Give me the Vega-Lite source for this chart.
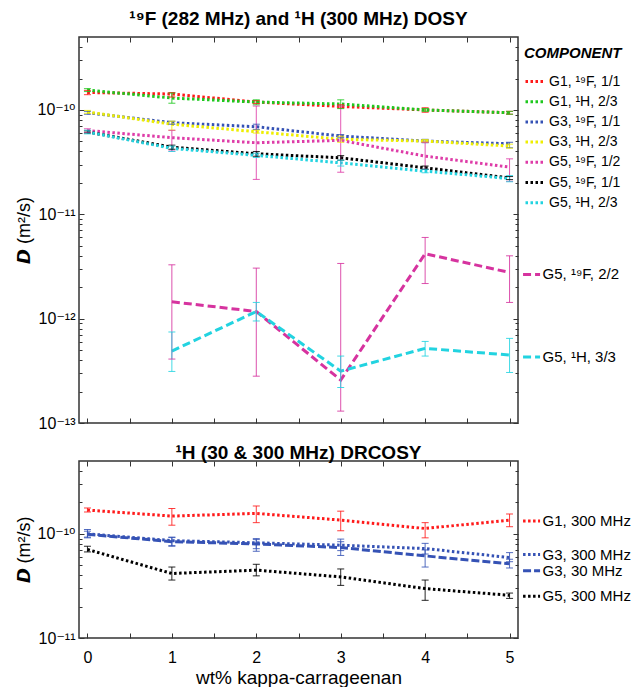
{
  "$schema": "https://vega.github.io/schema/vega-lite/v6.json",
  "padding": {"left": 14, "top": 8, "right": 0, "bottom": 0},
  "spacing": 10,
  "resolve": {"scale": {"color": "independent", "strokeDash": "independent", "y": "independent"}},
  "config": {
    "font": "Liberation Sans, DejaVu Sans, sans-serif",
    "view": {"stroke": "#333", "strokeWidth": 1.5},
    "axis": {"domain": false, "grid": false, "labelFont": "Liberation Sans, DejaVu Sans, sans-serif", "labelFontSize": 16, "labelColor": "#000", "tickColor": "#333", "tickWidth": 1, "titleFont": "Liberation Sans, DejaVu Sans, sans-serif", "titleFontSize": 18, "titleFontWeight": "normal", "titleColor": "#000", "labelFlush": false},
    "title": {"font": "Liberation Sans, DejaVu Sans, sans-serif", "fontSize": 19, "fontWeight": "bold", "color": "#000", "anchor": "middle"}
  },
  "datasets": {
    "dosy": [
      {"series": "G1, ¹⁹F, 1/1", "x": 0, "D": 1.47e-10, "lo": 1.40e-10, "hi": 1.54e-10},
      {"series": "G1, ¹⁹F, 1/1", "x": 1, "D": 1.42e-10, "lo": 1.33e-10, "hi": 1.47e-10},
      {"series": "G1, ¹⁹F, 1/1", "x": 2, "D": 1.19e-10, "lo": 1.15e-10, "hi": 1.23e-10},
      {"series": "G1, ¹⁹F, 1/1", "x": 3, "D": 1.08e-10, "lo": 1.04e-10, "hi": 1.12e-10},
      {"series": "G1, ¹⁹F, 1/1", "x": 4, "D": 1.00e-10, "lo": 0.95e-10, "hi": 1.05e-10},
      {"series": "G1, ¹⁹F, 1/1", "x": 5, "D": 0.94e-10, "lo": 0.91e-10, "hi": 0.97e-10},
      {"series": "G1, ¹H, 2/3", "x": 0, "D": 1.55e-10, "lo": 1.50e-10, "hi": 1.60e-10},
      {"series": "G1, ¹H, 2/3", "x": 1, "D": 1.30e-10, "lo": 1.16e-10, "hi": 1.45e-10},
      {"series": "G1, ¹H, 2/3", "x": 2, "D": 1.19e-10, "lo": 1.12e-10, "hi": 1.25e-10},
      {"series": "G1, ¹H, 2/3", "x": 3, "D": 1.14e-10, "lo": 1.03e-10, "hi": 1.25e-10},
      {"series": "G1, ¹H, 2/3", "x": 4, "D": 1.00e-10, "lo": 0.97e-10, "hi": 1.03e-10},
      {"series": "G1, ¹H, 2/3", "x": 5, "D": 0.94e-10, "lo": 0.91e-10, "hi": 0.97e-10},
      {"series": "G3, ¹⁹F, 1/1", "x": 0, "D": 0.94e-10, "lo": 0.91e-10, "hi": 0.97e-10},
      {"series": "G3, ¹⁹F, 1/1", "x": 1, "D": 0.755e-10, "lo": 0.73e-10, "hi": 0.78e-10},
      {"series": "G3, ¹⁹F, 1/1", "x": 2, "D": 0.69e-10, "lo": 0.65e-10, "hi": 0.73e-10},
      {"series": "G3, ¹⁹F, 1/1", "x": 3, "D": 0.562e-10, "lo": 0.54e-10, "hi": 0.58e-10},
      {"series": "G3, ¹⁹F, 1/1", "x": 4, "D": 0.503e-10, "lo": 0.485e-10, "hi": 0.523e-10},
      {"series": "G3, ¹⁹F, 1/1", "x": 5, "D": 0.474e-10, "lo": 0.434e-10, "hi": 0.49e-10},
      {"series": "G3, ¹H, 2/3", "x": 0, "D": 0.957e-10, "lo": 0.93e-10, "hi": 0.99e-10},
      {"series": "G3, ¹H, 2/3", "x": 1, "D": 0.73e-10, "lo": 0.64e-10, "hi": 0.78e-10},
      {"series": "G3, ¹H, 2/3", "x": 2, "D": 0.618e-10, "lo": 0.60e-10, "hi": 0.64e-10},
      {"series": "G3, ¹H, 2/3", "x": 3, "D": 0.523e-10, "lo": 0.49e-10, "hi": 0.56e-10},
      {"series": "G3, ¹H, 2/3", "x": 4, "D": 0.503e-10, "lo": 0.49e-10, "hi": 0.52e-10},
      {"series": "G3, ¹H, 2/3", "x": 5, "D": 0.451e-10, "lo": 0.43e-10, "hi": 0.47e-10},
      {"series": "G5, ¹⁹F, 1/2", "x": 0, "D": 0.635e-10, "lo": 0.61e-10, "hi": 0.66e-10},
      {"series": "G5, ¹⁹F, 1/2", "x": 1, "D": 0.542e-10, "lo": 0.404e-10, "hi": 0.638e-10},
      {"series": "G5, ¹⁹F, 1/2", "x": 2, "D": 0.485e-10, "lo": 0.216e-10, "hi": 1.09e-10},
      {"series": "G5, ¹⁹F, 1/2", "x": 3, "D": 0.511e-10, "lo": 0.253e-10, "hi": 1.09e-10},
      {"series": "G5, ¹⁹F, 1/2", "x": 4, "D": 0.361e-10, "lo": 0.27e-10, "hi": 0.49e-10},
      {"series": "G5, ¹⁹F, 1/2", "x": 5, "D": 0.283e-10, "lo": 0.207e-10, "hi": 0.34e-10},
      {"series": "G5, ¹⁹F, 1/1", "x": 0, "D": 0.615e-10, "lo": 0.60e-10, "hi": 0.63e-10},
      {"series": "G5, ¹⁹F, 1/1", "x": 1, "D": 0.44e-10, "lo": 0.42e-10, "hi": 0.46e-10},
      {"series": "G5, ¹⁹F, 1/1", "x": 2, "D": 0.38e-10, "lo": 0.36e-10, "hi": 0.40e-10},
      {"series": "G5, ¹⁹F, 1/1", "x": 3, "D": 0.348e-10, "lo": 0.33e-10, "hi": 0.365e-10},
      {"series": "G5, ¹⁹F, 1/1", "x": 4, "D": 0.279e-10, "lo": 0.27e-10, "hi": 0.29e-10},
      {"series": "G5, ¹⁹F, 1/1", "x": 5, "D": 0.223e-10, "lo": 0.215e-10, "hi": 0.23e-10},
      {"series": "G5, ¹H, 2/3", "x": 0, "D": 0.615e-10, "lo": 0.59e-10, "hi": 0.64e-10},
      {"series": "G5, ¹H, 2/3", "x": 1, "D": 0.428e-10, "lo": 0.40e-10, "hi": 0.45e-10},
      {"series": "G5, ¹H, 2/3", "x": 2, "D": 0.367e-10, "lo": 0.35e-10, "hi": 0.385e-10},
      {"series": "G5, ¹H, 2/3", "x": 3, "D": 0.311e-10, "lo": 0.29e-10, "hi": 0.33e-10},
      {"series": "G5, ¹H, 2/3", "x": 4, "D": 0.259e-10, "lo": 0.25e-10, "hi": 0.27e-10},
      {"series": "G5, ¹H, 2/3", "x": 5, "D": 0.22e-10, "lo": 0.205e-10, "hi": 0.235e-10},
      {"series": "G5, ¹⁹F, 2/2", "x": 1, "D": 1.45e-12, "lo": 0.41e-12, "hi": 3.28e-12},
      {"series": "G5, ¹⁹F, 2/2", "x": 2, "D": 1.17e-12, "lo": 0.281e-12, "hi": 3.05e-12},
      {"series": "G5, ¹⁹F, 2/2", "x": 3, "D": 0.258e-12, "lo": 0.130e-12, "hi": 3.38e-12},
      {"series": "G5, ¹⁹F, 2/2", "x": 4, "D": 4.19e-12, "lo": 2.17e-12, "hi": 6.0e-12},
      {"series": "G5, ¹⁹F, 2/2", "x": 5, "D": 2.77e-12, "lo": 1.43e-12, "hi": 4.0e-12},
      {"series": "G5, ¹H, 3/3", "x": 1, "D": 0.489e-12, "lo": 0.312e-12, "hi": 0.745e-12},
      {"series": "G5, ¹H, 3/3", "x": 2, "D": 1.17e-12, "lo": 0.95e-12, "hi": 1.43e-12},
      {"series": "G5, ¹H, 3/3", "x": 3, "D": 0.314e-12, "lo": 0.219e-12, "hi": 0.438e-12},
      {"series": "G5, ¹H, 3/3", "x": 4, "D": 0.519e-12, "lo": 0.438e-12, "hi": 0.605e-12},
      {"series": "G5, ¹H, 3/3", "x": 5, "D": 0.448e-12, "lo": 0.305e-12, "hi": 0.647e-12}
    ],
    "drcosy": [
      {"series": "G1, 300 MHz", "x": 0, "D": 1.69e-10, "lo": 1.62e-10, "hi": 1.77e-10},
      {"series": "G1, 300 MHz", "x": 1, "D": 1.48e-10, "lo": 1.21e-10, "hi": 1.75e-10},
      {"series": "G1, 300 MHz", "x": 2, "D": 1.57e-10, "lo": 1.28e-10, "hi": 1.85e-10},
      {"series": "G1, 300 MHz", "x": 3, "D": 1.355e-10, "lo": 1.07e-10, "hi": 1.65e-10},
      {"series": "G1, 300 MHz", "x": 4, "D": 1.125e-10, "lo": 0.915e-10, "hi": 1.28e-10},
      {"series": "G1, 300 MHz", "x": 5, "D": 1.355e-10, "lo": 1.17e-10, "hi": 1.55e-10},
      {"series": "G3, 300 MHz", "x": 0, "D": 1.00e-10, "lo": 0.915e-10, "hi": 1.10e-10},
      {"series": "G3, 300 MHz", "x": 1, "D": 0.86e-10, "lo": 0.77e-10, "hi": 0.93e-10},
      {"series": "G3, 300 MHz", "x": 2, "D": 0.82e-10, "lo": 0.72e-10, "hi": 0.90e-10},
      {"series": "G3, 300 MHz", "x": 3, "D": 0.778e-10, "lo": 0.69e-10, "hi": 0.89e-10},
      {"series": "G3, 300 MHz", "x": 4, "D": 0.722e-10, "lo": 0.64e-10, "hi": 0.81e-10},
      {"series": "G3, 300 MHz", "x": 5, "D": 0.592e-10, "lo": 0.54e-10, "hi": 0.66e-10},
      {"series": "G3, 30 MHz", "x": 0, "D": 0.99e-10, "lo": 0.93e-10, "hi": 1.06e-10},
      {"series": "G3, 30 MHz", "x": 1, "D": 0.84e-10, "lo": 0.76e-10, "hi": 0.92e-10},
      {"series": "G3, 30 MHz", "x": 2, "D": 0.80e-10, "lo": 0.68e-10, "hi": 0.88e-10},
      {"series": "G3, 30 MHz", "x": 3, "D": 0.738e-10, "lo": 0.62e-10, "hi": 0.84e-10},
      {"series": "G3, 30 MHz", "x": 4, "D": 0.614e-10, "lo": 0.48e-10, "hi": 0.70e-10},
      {"series": "G3, 30 MHz", "x": 5, "D": 0.515e-10, "lo": 0.47e-10, "hi": 0.57e-10},
      {"series": "G5, 300 MHz", "x": 0, "D": 0.707e-10, "lo": 0.67e-10, "hi": 0.76e-10},
      {"series": "G5, 300 MHz", "x": 1, "D": 0.416e-10, "lo": 0.36e-10, "hi": 0.48e-10},
      {"series": "G5, 300 MHz", "x": 2, "D": 0.448e-10, "lo": 0.395e-10, "hi": 0.51e-10},
      {"series": "G5, 300 MHz", "x": 3, "D": 0.386e-10, "lo": 0.32e-10, "hi": 0.46e-10},
      {"series": "G5, 300 MHz", "x": 4, "D": 0.298e-10, "lo": 0.23e-10, "hi": 0.36e-10},
      {"series": "G5, 300 MHz", "x": 5, "D": 0.257e-10, "lo": 0.24e-10, "hi": 0.27e-10}
    ]
  },
  "vconcat": [
    {
      "title": {"text": "¹⁹F (282 MHz) and ¹H (300 MHz) DOSY", "offset": 8},
      "width": 439,
      "height": 386,
      "data": {"name": "dosy"},
      "layer": [
        {
          "mark": {"type": "line", "strokeWidth": 3, "strokeCap": "butt"},
          "encoding": {
            "x": {"field": "x", "type": "quantitative", "scale": {"domain": [-0.1, 5.1], "nice": false, "zero": false},
                  "axis": {"orient": "bottom", "values": [0, 0.5, 1, 1.5, 2, 2.5, 3, 3.5, 4, 4.5, 5], "tickSize": -5, "labels": false, "title": null}},
            "y": {"field": "D", "type": "quantitative", "scale": {"type": "log", "domain": [1e-13, 5e-10], "nice": false},
                  "axis": {"orient": "left", "values": [1e-13, 1e-12, 1e-11, 1e-10], "tickSize": -5, "labelPadding": 9,
                           "labelExpr": "'10' + (datum.value < 5e-13 ? '⁻¹³' : datum.value < 5e-12 ? '⁻¹²' : datum.value < 5e-11 ? '⁻¹¹' : '⁻¹⁰')",
                           "title": "𝘿 (m²/s)", "titlePadding": 4}},
            "color": {"field": "series", "type": "nominal",
                      "scale": {"domain": ["G1, ¹⁹F, 1/1", "G1, ¹H, 2/3", "G3, ¹⁹F, 1/1", "G3, ¹H, 2/3", "G5, ¹⁹F, 1/2", "G5, ¹⁹F, 1/1", "G5, ¹H, 2/3", "G5, ¹⁹F, 2/2", "G5, ¹H, 3/3"],
                                "range": ["#ff1a1a", "#1ec81e", "#3552b5", "#eeee00", "#de3ca8", "#000000", "#22d3e0", "#d6339f", "#22d3e0"]},
                      "legend": {"title": "COMPONENT", "orient": "none", "legendX": 445, "legendY": 9,
                                 "values": ["G1, ¹⁹F, 1/1", "G1, ¹H, 2/3", "G3, ¹⁹F, 1/1", "G3, ¹H, 2/3", "G5, ¹⁹F, 1/2", "G5, ¹⁹F, 1/1", "G5, ¹H, 2/3"],
                                 "symbolType": "stroke", "symbolSize": 324, "symbolStrokeWidth": 3, "symbolDash": [2.5, 2.5],
                                 "labelFontSize": 14, "labelColor": "#000", "titleFontSize": 15, "titleFontStyle": "italic", "titleFontWeight": "bold", "titleColor": "#000",
                                 "titlePadding": 10, "rowPadding": 2.2, "labelOffset": 4, "padding": 0, "labelLimit": 200, "titleLimit": 200}},
            "strokeDash": {"field": "series", "type": "nominal",
                           "scale": {"domain": ["G1, ¹⁹F, 1/1", "G1, ¹H, 2/3", "G3, ¹⁹F, 1/1", "G3, ¹H, 2/3", "G5, ¹⁹F, 1/2", "G5, ¹⁹F, 1/1", "G5, ¹H, 2/3", "G5, ¹⁹F, 2/2", "G5, ¹H, 3/3"],
                                     "range": [[2.5, 2.5], [2.5, 2.5], [2.5, 2.5], [2.5, 2.5], [2.5, 2.5], [2.5, 2.5], [2.5, 2.5], [8, 4], [8, 4]]},
                           "legend": null}
          }
        },
        {
          "mark": {"type": "rule", "strokeWidth": 1, "opacity": 0.85},
          "encoding": {
            "x": {"field": "x", "type": "quantitative", "scale": {"domain": [-0.1, 5.1], "nice": false, "zero": false},
                  "axis": {"orient": "top", "values": [0, 0.5, 1, 1.5, 2, 2.5, 3, 3.5, 4, 4.5, 5], "tickSize": -5, "labels": false, "title": null}},
            "y": {"field": "lo", "type": "quantitative", "scale": {"type": "log", "domain": [1e-13, 5e-10], "nice": false},
                  "axis": {"orient": "right", "values": [1e-13, 1e-12, 1e-11, 1e-10], "tickSize": -5, "labels": false, "title": null}},
            "y2": {"field": "hi"},
            "color": {"field": "series", "type": "nominal", "legend": null}
          }
        },
        {
          "mark": {"type": "tick", "orient": "horizontal", "size": 7, "thickness": 1, "opacity": 0.85},
          "encoding": {
            "x": {"field": "x", "type": "quantitative", "scale": {"domain": [-0.1, 5.1], "nice": false, "zero": false}, "axis": null},
            "y": {"field": "lo", "type": "quantitative", "scale": {"type": "log", "domain": [1e-13, 5e-10], "nice": false},
                  "axis": {"orient": "left", "values": [2e-13, 3e-13, 4e-13, 5e-13, 6e-13, 7e-13, 8e-13, 9e-13, 2e-12, 3e-12, 4e-12, 5e-12, 6e-12, 7e-12, 8e-12, 9e-12, 2e-11, 3e-11, 4e-11, 5e-11, 6e-11, 7e-11, 8e-11, 9e-11, 2e-10, 3e-10, 4e-10], "tickSize": -3, "labels": false, "title": null}},
            "color": {"field": "series", "type": "nominal", "legend": null}
          }
        },
        {
          "mark": {"type": "tick", "orient": "horizontal", "size": 7, "thickness": 1, "opacity": 0.85},
          "encoding": {
            "x": {"field": "x", "type": "quantitative", "scale": {"domain": [-0.1, 5.1], "nice": false, "zero": false}, "axis": null},
            "y": {"field": "hi", "type": "quantitative", "scale": {"type": "log", "domain": [1e-13, 5e-10], "nice": false},
                  "axis": {"orient": "right", "values": [2e-13, 3e-13, 4e-13, 5e-13, 6e-13, 7e-13, 8e-13, 9e-13, 2e-12, 3e-12, 4e-12, 5e-12, 6e-12, 7e-12, 8e-12, 9e-12, 2e-11, 3e-11, 4e-11, 5e-11, 6e-11, 7e-11, 8e-11, 9e-11, 2e-10, 3e-10, 4e-10], "tickSize": -3, "labels": false, "title": null}},
            "color": {"field": "series", "type": "nominal", "legend": null}
          }
        },
        {
          "transform": [{"filter": "datum.x == 5 && (datum.series == 'G5, ¹⁹F, 2/2' || datum.series == 'G5, ¹H, 3/3')"}],
          "mark": {"type": "text", "align": "left", "baseline": "middle", "dx": 33, "dy": 2, "fontSize": 15, "color": "#000"},
          "encoding": {
            "x": {"field": "x", "type": "quantitative", "axis": null},
            "y": {"field": "D", "type": "quantitative", "axis": null},
            "text": {"field": "series"}
          }
        },
        {
          "transform": [{"filter": "datum.x == 5 && (datum.series == 'G5, ¹⁹F, 2/2' || datum.series == 'G5, ¹H, 3/3')"}],
          "mark": {"type": "point", "shape": "M-1,0L1,0", "size": 289, "filled": false, "strokeWidth": 3, "xOffset": 22, "yOffset": 2, "opacity": 1},
          "encoding": {
            "x": {"field": "x", "type": "quantitative", "axis": null},
            "y": {"field": "D", "type": "quantitative", "axis": null},
            "color": {"field": "series", "type": "nominal", "legend": null},
            "strokeDash": {"field": "series", "type": "nominal", "legend": null}
          }
        }
      ],
      "resolve": {"axis": {"x": "independent", "y": "independent"}}
    },
    {
      "title": {"text": "¹H (30 & 300 MHz) DRCOSY", "offset": -2},
      "width": 439,
      "height": 177,
      "data": {"name": "drcosy"},
      "layer": [
        {
          "mark": {"type": "line", "strokeWidth": 3, "strokeCap": "butt"},
          "encoding": {
            "x": {"field": "x", "type": "quantitative", "scale": {"domain": [-0.1, 5.1], "nice": false, "zero": false},
                  "axis": {"orient": "bottom", "values": [0, 0.5, 1, 1.5, 2, 2.5, 3, 3.5, 4, 4.5, 5], "tickSize": -5, "labelPadding": 16,
                           "labelExpr": "datum.value % 1 === 0 ? format(datum.value, 'd') : ''",
                           "title": "wt% kappa-carrageenan", "titleFontSize": 19, "titlePadding": 3}},
            "y": {"field": "D", "type": "quantitative", "scale": {"type": "log", "domain": [1e-11, 5e-10], "nice": false},
                  "axis": {"orient": "left", "values": [1e-11, 1e-10], "tickSize": -5, "labelPadding": 9,
                           "labelExpr": "'10' + (datum.value < 5e-11 ? '⁻¹¹' : '⁻¹⁰')",
                           "title": "𝘿 (m²/s)", "titlePadding": 4}},
            "color": {"field": "series", "type": "nominal",
                      "scale": {"domain": ["G1, 300 MHz", "G3, 300 MHz", "G3, 30 MHz", "G5, 300 MHz"], "range": ["#ff1a1a", "#3552b5", "#3552b5", "#000000"]},
                      "legend": null},
            "strokeDash": {"field": "series", "type": "nominal",
                           "scale": {"domain": ["G1, 300 MHz", "G3, 300 MHz", "G3, 30 MHz", "G5, 300 MHz"], "range": [[2.5, 2.5], [2.5, 2.5], [8, 3], [2.5, 2.5]]},
                           "legend": null}
          }
        },
        {
          "mark": {"type": "rule", "strokeWidth": 1, "opacity": 0.85},
          "encoding": {
            "x": {"field": "x", "type": "quantitative", "scale": {"domain": [-0.1, 5.1], "nice": false, "zero": false},
                  "axis": {"orient": "top", "values": [0, 0.5, 1, 1.5, 2, 2.5, 3, 3.5, 4, 4.5, 5], "tickSize": -5, "labels": false, "title": null}},
            "y": {"field": "lo", "type": "quantitative", "scale": {"type": "log", "domain": [1e-11, 5e-10], "nice": false},
                  "axis": {"orient": "right", "values": [1e-11, 1e-10], "tickSize": -5, "labels": false, "title": null}},
            "y2": {"field": "hi"},
            "color": {"field": "series", "type": "nominal", "legend": null}
          }
        },
        {
          "mark": {"type": "tick", "orient": "horizontal", "size": 7, "thickness": 1, "opacity": 0.85},
          "encoding": {
            "x": {"field": "x", "type": "quantitative", "scale": {"domain": [-0.1, 5.1], "nice": false, "zero": false}, "axis": null},
            "y": {"field": "lo", "type": "quantitative", "scale": {"type": "log", "domain": [1e-11, 5e-10], "nice": false},
                  "axis": {"orient": "left", "values": [2e-11, 3e-11, 4e-11, 5e-11, 6e-11, 7e-11, 8e-11, 9e-11, 2e-10, 3e-10, 4e-10], "tickSize": -3, "labels": false, "title": null}},
            "color": {"field": "series", "type": "nominal", "legend": null}
          }
        },
        {
          "mark": {"type": "tick", "orient": "horizontal", "size": 7, "thickness": 1, "opacity": 0.85},
          "encoding": {
            "x": {"field": "x", "type": "quantitative", "scale": {"domain": [-0.1, 5.1], "nice": false, "zero": false}, "axis": null},
            "y": {"field": "hi", "type": "quantitative", "scale": {"type": "log", "domain": [1e-11, 5e-10], "nice": false},
                  "axis": {"orient": "right", "values": [2e-11, 3e-11, 4e-11, 5e-11, 6e-11, 7e-11, 8e-11, 9e-11, 2e-10, 3e-10, 4e-10], "tickSize": -3, "labels": false, "title": null}},
            "color": {"field": "series", "type": "nominal", "legend": null}
          }
        },
        {
          "transform": [{"filter": "datum.x == 5"}],
          "mark": {"type": "text", "align": "left", "baseline": "middle", "dx": 33, "fontSize": 15, "color": "#000",
                   "dy": {"expr": "datum.series == 'G3, 300 MHz' ? -3 : datum.series == 'G3, 30 MHz' ? 7 : 1"}},
          "encoding": {
            "x": {"field": "x", "type": "quantitative", "axis": null},
            "y": {"field": "D", "type": "quantitative", "axis": null},
            "text": {"field": "series"}
          }
        },
        {
          "transform": [{"filter": "datum.x == 5"}],
          "mark": {"type": "point", "shape": "M-1,0L1,0", "size": 289, "filled": false, "strokeWidth": 3, "xOffset": 22, "opacity": 1,
                   "yOffset": {"expr": "datum.series == 'G3, 300 MHz' ? -3 : datum.series == 'G3, 30 MHz' ? 7 : 1"}},
          "encoding": {
            "x": {"field": "x", "type": "quantitative", "axis": null},
            "y": {"field": "D", "type": "quantitative", "axis": null},
            "color": {"field": "series", "type": "nominal", "legend": null},
            "strokeDash": {"field": "series", "type": "nominal", "legend": null}
          }
        }
      ],
      "resolve": {"axis": {"x": "independent", "y": "independent"}}
    }
  ]
}
